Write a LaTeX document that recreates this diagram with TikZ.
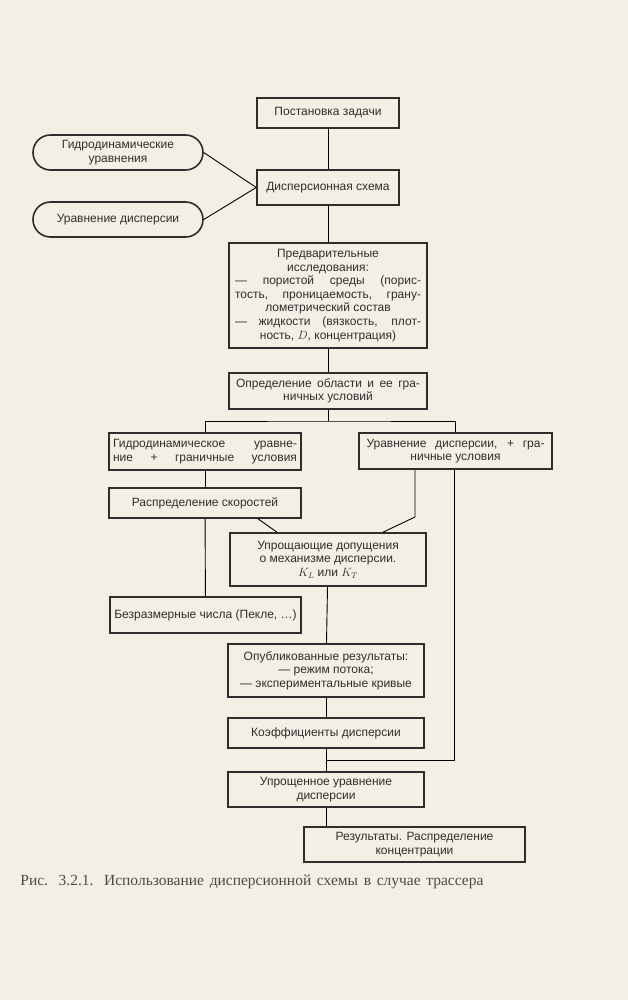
\documentclass[tikz,border=0pt]{standalone}
\usepackage{fontspec}
\setmainfont{Liberation Serif}
\newfontfamily\boxfont{Liberation Sans}
\usepackage{tikz}
\usetikzlibrary{shapes.misc}
\usepackage{xcolor}
\definecolor{PaperNC}{HTML}{F3EFE4}
\definecolor{InkNC}{HTML}{2E2E2E}
\definecolor{CapNC}{HTML}{4A4A4A}
\newcommand\fullline[2][186pt]{\makebox[#1][s]{#2}}
\newcommand\nodepz{Постановка задачи}
\newcommand\nodegu{Гидродинамические\\уравнения}
\newcommand\nodeud{Уравнение дисперсии}
\newcommand\nodeds{Дисперсионная схема}
\newcommand\nodepi{Предварительные\\исследования:\\\fullline{— пористой среды (порис-}\\\fullline{тость, проницаемость, грану-}\\лометрический состав\\\fullline{— жидкости (вязкость, плот-}\\ность, $D$, концентрация)}
\newcommand\nodeoo{\fullline[184pt]{Определение области и ее гра-}\\ничных условий}
\newcommand\nodegr{\fullline[184pt]{Гидродинамическое уравне-}\\\fullline[184pt]{ние + граничные условия}}
\newcommand\nodedg{\fullline[178pt]{Уравнение дисперсии, + гра-}\\ничные условия}
\newcommand\noders{Распределение скоростей}
\newcommand\nodeup{Упрощающие допущения\\о механизме дисперсии.\\$K_L$ или $K_T$}
\newcommand\nodebc{Безразмерные числа (Пекле, \dots)}
\newcommand\nodeor{Опубликованные результаты:\\— режим потока;\\— экспериментальные кривые}
\newcommand\nodekd{Коэффициенты дисперсии}
\newcommand\nodeuu{Упрощенное уравнение\\дисперсии}
\newcommand\noderk{Результаты. Распределение\\концентрации}
\tikzstyle{blockstyle} = [draw=InkNC, line width=1.6pt, text=InkNC, inner sep=0pt, align=center, font=\boxfont\fontsize{12}{13.6}\selectfont]
\tikzstyle{sb} = [blockstyle, rectangle]
\tikzstyle{rb} = [blockstyle, rounded rectangle]
\tikzset{every picture/.style={line width=0.9pt}}

\begin{document}
\begin{tikzpicture}[x=1pt, y=-1pt]
\fill[PaperNC] (0,0) rectangle (628,1000);
\useasboundingbox (0,0) rectangle (628,1000);
\node[sb, minimum width=142pt, minimum height=30pt] (pz) at (328,113) {\nodepz};
\node[rb, minimum width=170pt, minimum height=35pt] (gu) at (118,152.5) {\nodegu};
\node[rb, minimum width=170pt, minimum height=35pt] (ud) at (118,219.5) {\nodeud};
\node[sb, minimum width=142pt, minimum height=35pt] (ds) at (328,187.5) {\nodeds};
\node[sb, minimum width=198pt, minimum height=105pt] (pi) at (328,295.5) {\nodepi};
\node[sb, minimum width=198pt, minimum height=36pt] (oo) at (328,391) {\nodeoo};
\node[sb, minimum width=192pt, minimum height=37pt] (gr) at (205,451.5) {\nodegr};
\node[sb, minimum width=193pt, minimum height=36pt] (dg) at (455.5,451) {\nodedg};
\node[sb, minimum width=192pt, minimum height=30pt] (rs) at (205,503) {\noders};
\node[sb, minimum width=196pt, minimum height=53pt] (up) at (328,559.5) {\nodeup};
\node[sb, minimum width=191pt, minimum height=36pt] (bc) at (205.5,615) {\nodebc};
\node[sb, minimum width=196pt, minimum height=53pt] (or) at (326,670.5) {\nodeor};
\node[sb, minimum width=196pt, minimum height=30pt] (kd) at (326,733) {\nodekd};
\node[sb, minimum width=196pt, minimum height=35pt] (uu) at (326,789.5) {\nodeuu};
\node[sb, minimum width=221pt, minimum height=35pt] (rk) at (414.5,844.5) {\noderk};
\node[anchor=base west, text=CapNC, font=\fontsize{15.5}{18}\selectfont, inner sep=0pt] (cap) at (20,885) {\makebox[463pt][s]{Рис. 3.2.1. Использование дисперсионной схемы в случае трассера}};
\coordinate (br) at (328,421);
\coordinate (a1) at (415,517);
\coordinate (a2) at (383,533);
\coordinate (b1) at (258,518);
\coordinate (b2) at (277,533);
\coordinate (c1) at (454,760);
\draw (pz) -- (ds);
\draw (gu.east) -- (ds.west);
\draw (ud.east) -- (ds.west);
\draw (ds) -- (pi);
\draw (pi) -- (oo);
\draw (oo) -- (br);
\draw (gr.north) |- (br) -| (dg.north);
\draw (gr) -- (rs);
\draw (rs) -- (bc);
\draw (rs.south -| b1) -- (up.north -| b2);
\draw (dg.south -| a1) -- (a1) -- (up.north -| a2);
\draw (dg.south -| c1) -- (c1) -- (c1 -| kd.south);
\draw (up) -- (or);
\draw (or) -- (kd);
\draw (kd) -- (uu);
\draw (uu.south) -- (uu.south |- rk.north);
\end{tikzpicture}
\end{document}
